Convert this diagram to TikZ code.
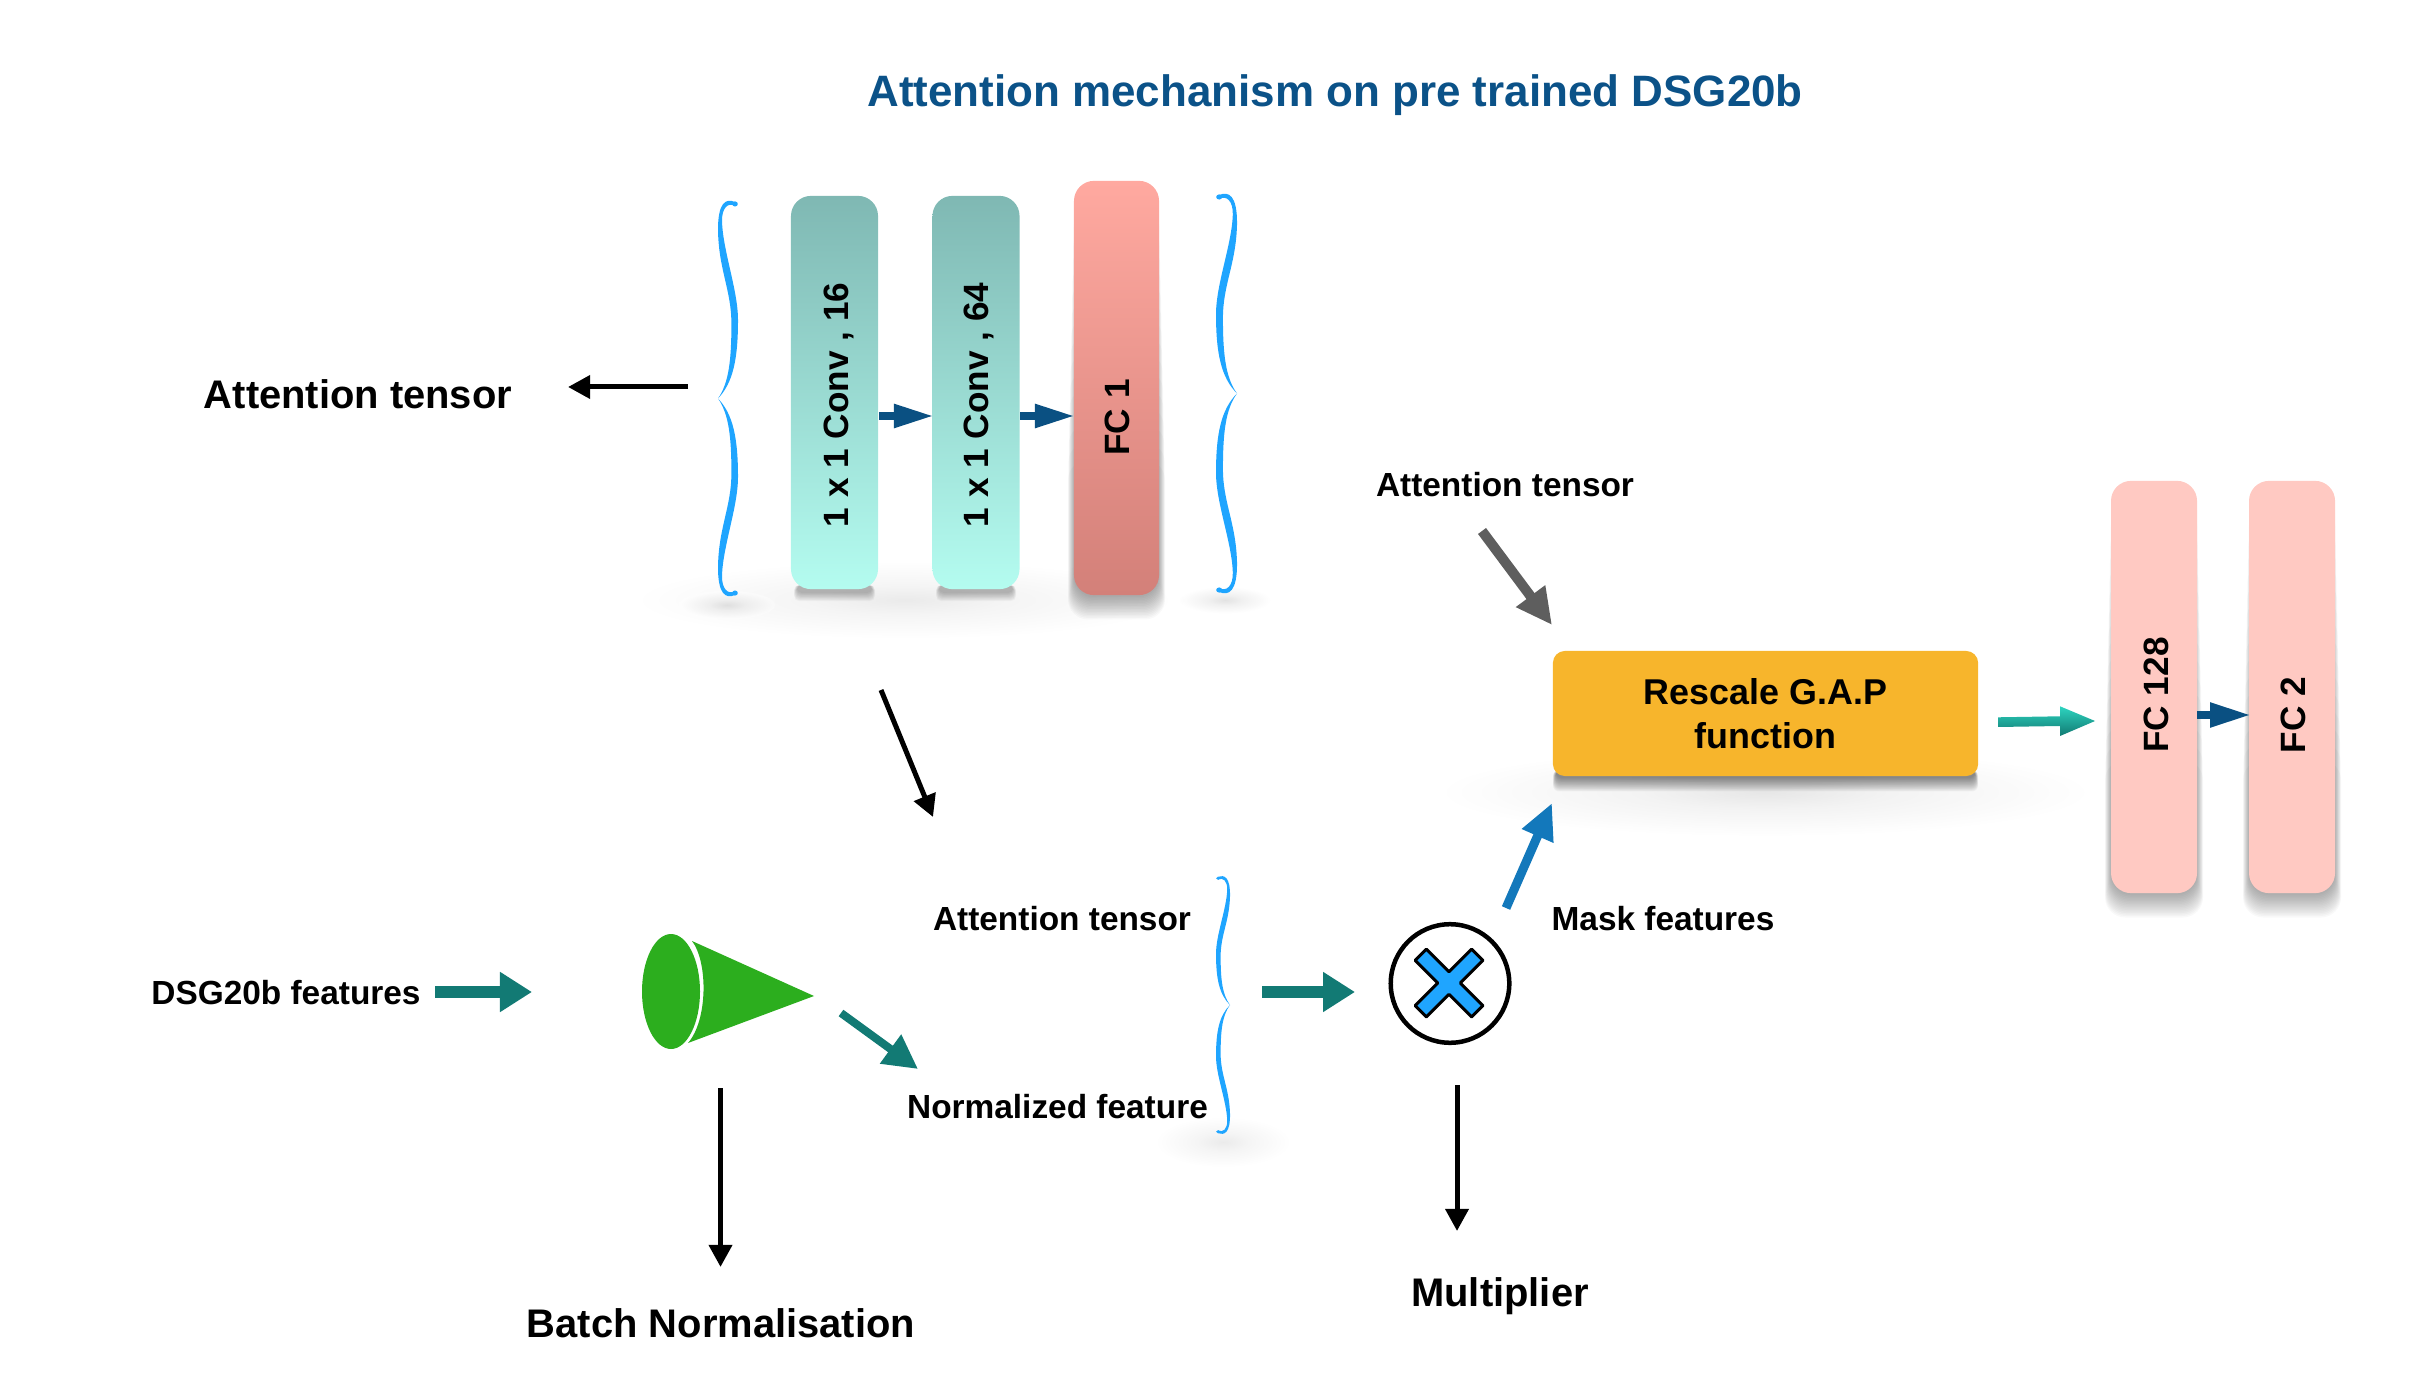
\documentclass[tikz,border=0pt]{standalone}
\usepackage{fontspec}
\setmainfont{Liberation Sans}
\usetikzlibrary{arrows.meta}
\definecolor{titleblue}{HTML}{0B5288}
\definecolor{navyarrow}{HTML}{0A5082}
\definecolor{tealarrow}{HTML}{127A74}
\definecolor{maskblue}{HTML}{1378BB}
\definecolor{bracecolor}{HTML}{1FA5FF}
\definecolor{conegreen}{HTML}{2CAE1E}
\definecolor{gapcolor}{HTML}{F7B52C}
\definecolor{fclight}{HTML}{FFC9C2}
\definecolor{convtop}{HTML}{7FB8B3}
\definecolor{convbottom}{HTML}{B4FCF0}
\definecolor{fctop}{HTML}{FFA9A0}
\definecolor{fcbottom}{HTML}{D38079}
\definecolor{arrowtop}{HTML}{2DD4C0}
\definecolor{arrowbottom}{HTML}{127A72}
\pgfdeclareradialshading{softglow}{\pgfpoint{0bp}{0bp}}{color(0bp)=(black!32); color(9bp)=(black!16); color(24bp)=(white); color(100bp)=(white)}
\newcommand{\softglow}[5]{\shade[shading=softglow,opacity=#5] (#1,#2) ellipse [x radius=#3,y radius=#4];}
\newcommand{\softband}[9]{\foreach \g in {0,...,15}{\fill[black,opacity=#6,rounded corners=#8] ({#1-\g*#5},{#2+\g*#9}) rectangle ({#3+\g*#5},{#4+\g*#7});}}
\tikzset{
    curlyside/.pic={
        \fill[bracecolor] (1,0) .. controls (0.25,0.08) and (0,0.2) .. (0,0.4) .. controls (0,0.55) and (0.75,0.75) .. (0.8,0.9) .. controls (0.82,0.97) and (0.5,1) .. (0.15,0.98) -- (0.15,1) .. controls (0.6,1.02) and (1.02,1) .. (1,0.85) .. controls (0.95,0.65) and (0.33,0.55) .. (0.33,0.38) .. controls (0.33,0.2) and (0.45,0.08) .. (1,0);
        \fill[bracecolor] (1,0) .. controls (0.25,-0.08) and (0,-0.2) .. (0,-0.4) .. controls (0,-0.55) and (0.75,-0.75) .. (0.8,-0.9) .. controls (0.82,-0.97) and (0.5,-1) .. (0.15,-0.98) -- (0.15,-1) .. controls (0.6,-1.02) and (1.02,-1) .. (1,-0.85) .. controls (0.95,-0.65) and (0.33,-0.55) .. (0.33,-0.38) .. controls (0.33,-0.2) and (0.45,-0.08) .. (1,0);
        \fill[bracecolor] (0.15,0.99) ellipse [x radius=0.14,y radius=0.013];
        \fill[bracecolor] (0.15,-0.99) ellipse [x radius=0.14,y radius=0.013];
    }
}
\begin{document}
\begin{tikzpicture}[
            x=0.01cm, y=-0.01cm,
            titletext/.style={font=\fontsize{12.5}{15}\selectfont\bfseries, text=titleblue, anchor=base},
            bigtext/.style={font=\fontsize{11.35}{14}\selectfont\bfseries, anchor=base},
            midtext/.style={font=\fontsize{9.5}{12}\selectfont\bfseries, anchor=base},
            rottext/.style={font=\fontsize{10}{12}\selectfont\bfseries, anchor=base, rotate=90},
            layerbox/.style={rectangle, rounded corners=0.2cm, inner sep=0pt, outer sep=0pt, minimum width=0.87cm},
            convbox/.style={layerbox, minimum height=3.93cm, top color=convtop, bottom color=convbottom},
            fcbox/.style={layerbox, minimum width=0.86cm, minimum height=4.12cm, fill=fclight},
            navy/.style={draw=navyarrow, line width=0.08cm, -{Triangle[length=0.4cm,width=0.22cm]}},
            tealline/.style={draw=tealarrow, line width=0.12cm, -{Triangle[length=0.32cm,width=0.38cm]}},
            blackline/.style={draw=black, line width=0.05cm, -{Triangle[length=0.22cm,width=0.225cm]}},
        ]
            \useasboundingbox (0,0) rectangle (2428,1398);
            \softglow{905}{600}{280}{40}{0.25}
            \softglow{727}{605}{48}{14}{0.35}
            \softglow{1225}{600}{48}{14}{0.35}
            \softglow{1223}{1142}{70}{26}{0.25}
            \softglow{1765}{792}{340}{46}{0.3}
            \softband{797}{585}{872}{593}{0.2}{0.018}{0.55}{0.05cm}{0}
            \softband{939}{585}{1013}{593}{0.2}{0.018}{0.55}{0.05cm}{0}
            \softband{1074}{190}{1159}{597}{0.4}{0.025}{1.5}{0.2cm}{18}
            \softband{2111}{490}{2197}{895}{0.4}{0.025}{1.5}{0.2cm}{18}
            \softband{2249}{490}{2335}{895}{0.4}{0.025}{1.5}{0.2cm}{18}
            \softband{1556}{770}{1975}{778}{0.2}{0.035}{0.9}{0.06cm}{0}

            \node(titlenode) at (1335,107) [titletext] {Attention mechanism on pre trained DSG20b};

            \node(convone) at (834.5,392.5) [convbox] {};
            \node(convtwo) at (976,392.5) [convbox] {};
            \node(fcone) at (1116.5,388) [layerbox, minimum width=0.85cm, minimum height=4.14cm, top color=fctop, bottom color=fcbottom] {};
            \node(convonetext) at (848.5,405) [rottext] {1 x 1 Conv , 16};
            \node(convtwotext) at (988.5,405) [rottext] {1 x 1 Conv , 64};
            \node(fconetext) at (1129.5,417.5) [rottext] {FC 1};
            \coordinate(convoneout) at (879,416);
            \coordinate(convtwoin) at (934,416);
            \coordinate(convtwoout) at (1020,416);
            \coordinate(fconein) at (1075,416);
            \draw[navy] (convoneout) -- (convtwoin);
            \draw[navy] (convtwoout) -- (fconein);
            \pic(bracetopleft) at (738,398.5) [xscale=-20,yscale=196.5] {curlyside};
            \pic(bracetopright) at (1216,393.5) [xscale=21,yscale=198.5] {curlyside};

            \node(tensorbig) at (358,409) [bigtext] {Attention tensor};
            \coordinate(tensorfrom) at (688,387);
            \coordinate(tensorto) at (568,387);
            \draw[blackline] (tensorfrom) -- (tensorto);
            \coordinate(downfrom) at (881,690);
            \coordinate(downto) at (933,817);
            \draw[blackline] (downfrom) -- (downto);

            \node(dsgtext) at (286,1004) [midtext] {DSG20b features};
            \coordinate(dsgout) at (435,992);
            \coordinate(conein) at (532,992);
            \draw[tealline] (dsgout) -- (conein);
            \fill[conegreen] (671,991.5) ellipse [x radius=29,y radius=57.5];
            \fill[conegreen] (692,941) -- (814,996) -- (688,1043) .. controls (708,1020) and (708,962) .. (692,941);
            \coordinate(coneout) at (841,1013);
            \coordinate(normin) at (918,1069);
            \draw[tealarrow, line width=0.08cm, -{Triangle[length=0.34cm,width=0.34cm]}] (coneout) -- (normin);
            \coordinate(batchfrom) at (720.5,1088);
            \coordinate(batchto) at (720.5,1267);
            \draw[blackline] (batchfrom) -- (batchto);
            \node(batchtext) at (721,1337) [bigtext] {Batch Normalisation};

            \node(tensormid) at (1062,930) [midtext] {Attention tensor};
            \node(normtext) at (1057.5,1118) [midtext] {Normalized feature};
            \pic(bracelow) at (1216,1005) [xscale=14,yscale=128] {curlyside};
            \coordinate(braceout) at (1262,992);
            \coordinate(multin) at (1355,992);
            \draw[tealline] (braceout) -- (multin);

            \node(multnode) at (1450,983.5) [circle, draw=black, line width=0.045cm, inner sep=0pt, minimum size=1.185cm] {};
            \begin{scope}[shift={(1449,983)}, rotate=45]
                \draw[fill=bracecolor, line width=0.03cm, line join=round] (8,-40) -- (8,-8) -- (40,-8) -- (40,8) -- (8,8) -- (8,40) -- (-8,40) -- (-8,8) -- (-40,8) -- (-40,-8) -- (-8,-8) -- (-8,-40) -- cycle;
            \end{scope}
            \coordinate(multfrom) at (1457,1085);
            \coordinate(multto) at (1457,1231);
            \draw[blackline] (multfrom) -- (multto);
            \node(multtext) at (1500,1306) [bigtext] {Multiplier};

            \node(gapnode) at (1765.5,713.5) [rectangle, rounded corners=0.12cm, fill=gapcolor, minimum width=4.25cm, minimum height=1.25cm, align=center, font=\fontsize{10.2}{12.5}\selectfont\bfseries] {Rescale G.A.P\\function};
            \node(tensortop) at (1505,497) [midtext] {Attention tensor};
            \coordinate(grayfrom) at (1482,531);
            \coordinate(grayto) at (1552,625);
            \draw[draw=black!63, line width=0.1cm, -{Triangle[length=0.36cm,width=0.34cm]}] (grayfrom) -- (grayto);
            \coordinate(maskfrom) at (1506,908);
            \coordinate(maskto) at (1552,803);
            \draw[maskblue, line width=0.09cm, -{Triangle[length=0.36cm,width=0.32cm]}] (maskfrom) -- (maskto);
            \node(masktext) at (1663,930) [midtext] {Mask features};

            \coordinate(gapout) at (1998,722);
            \coordinate(fcin) at (2095,721);
            \shade[top color=arrowtop, bottom color=arrowbottom] (gapout) ++(0,-4.7) -- ++(62,-1) -- ++(0,-10) -- (fcin) -- ++(-35,15) -- ++(0,-10) -- ++(-62,1) -- cycle;
            \node(fchigh) at (2154,687) [fcbox] {};
            \node(fclow) at (2292,687) [fcbox] {};
            \node(fchightext) at (2168,695) [rottext] {FC 128};
            \node(fclowtext) at (2305,715) [rottext] {FC 2};
            \coordinate(fchighout) at (2197,715);
            \coordinate(fclowin) at (2251,715);
            \draw[draw=navyarrow, line width=0.08cm, -{Triangle[length=0.41cm,width=0.23cm]}] (fchighout) -- (fclowin);
        \end{tikzpicture}
\end{document}
